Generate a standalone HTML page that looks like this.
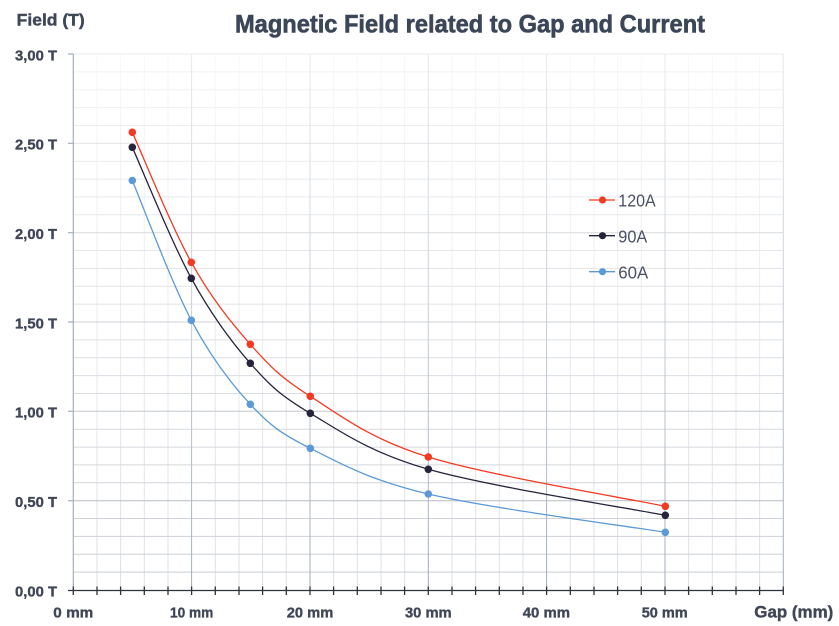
<!DOCTYPE html>
<html>
<head>
<meta charset="utf-8">
<style>
  html,body{margin:0;padding:0;background:#fff;}
  svg{display:block;}
  text{font-family:"Liberation Sans",Arial,sans-serif;}
</style>
</head>
<body>
<svg width="839" height="626" viewBox="0 0 839 626" xmlns="http://www.w3.org/2000/svg">
  <defs>
    <linearGradient id="fade" x1="0" y1="54" x2="0" y2="590" gradientUnits="userSpaceOnUse">
      <stop offset="0" stop-color="#fff" stop-opacity="0.25"/>
      <stop offset="0.5" stop-color="#fff" stop-opacity="0.6"/>
      <stop offset="1" stop-color="#fff" stop-opacity="1"/>
    </linearGradient>
    <mask id="m" maskUnits="userSpaceOnUse" x="0" y="0" width="839" height="626">
      <rect x="0" y="0" width="839" height="626" fill="url(#fade)"/>
    </mask>
  </defs>
  <rect width="839" height="626" fill="#fff"/>

  <!-- grid -->
  <g mask="url(#m)" fill="none">
    <path stroke="#dcdfe3" stroke-width="1" d="
      M97.0 54V590 M120.6 54V590 M144.3 54V590 M168.0 54V590
      M215.3 54V590 M239.0 54V590 M262.6 54V590 M286.3 54V590
      M333.6 54V590 M357.3 54V590 M381.0 54V590 M404.6 54V590
      M452.0 54V590 M475.6 54V590 M499.3 54V590 M523.0 54V590
      M570.3 54V590 M594.0 54V590 M617.6 54V590 M641.3 54V590
      M688.6 54V590 M712.3 54V590 M736.0 54V590 M759.6 54V590"/>
    <path stroke="#c9cdd3" stroke-width="1" d="
      M73.3 71.9H783.3 M73.3 89.7H783.3 M73.3 107.6H783.3 M73.3 125.5H783.3
      M73.3 161.2H783.3 M73.3 179.1H783.3 M73.3 196.9H783.3 M73.3 214.8H783.3
      M73.3 250.5H783.3 M73.3 268.4H783.3 M73.3 286.3H783.3 M73.3 304.1H783.3
      M73.3 339.9H783.3 M73.3 357.7H783.3 M73.3 375.6H783.3 M73.3 393.5H783.3
      M73.3 429.2H783.3 M73.3 447.1H783.3 M73.3 464.9H783.3 M73.3 482.8H783.3
      M73.3 518.5H783.3 M73.3 536.4H783.3 M73.3 554.3H783.3 M73.3 572.1H783.3"/>
    <path stroke="#adb3bc" stroke-width="1" d="
      M73.3 54H783.3 M73.3 143.3H783.3 M73.3 232.7H783.3 M73.3 322.0H783.3
      M73.3 411.3H783.3 M73.3 500.7H783.3"/>
    <path stroke="#9eacba" stroke-width="1" d="
      M191.6 54V590 M310.0 54V590 M428.3 54V590 M546.6 54V590 M665.0 54V590 M783.3 54V590"/>
  </g>

  <!-- y axis -->
  <path stroke="#a3afbb" stroke-width="1.2" fill="none" d="M73.3 54V590
    M68 54H73.3 M68 143.3H73.3 M68 232.7H73.3 M68 322.0H73.3 M68 411.3H73.3 M68 500.7H73.3"/>

  <!-- x axis -->
  <path stroke="#2e323b" stroke-width="1.3" fill="none" d="M68 590.5H783.3
    M73.3 586.5V595 M97.0 586.5V595 M120.6 586.5V595 M144.3 586.5V595 M168.0 586.5V595
    M191.6 586.5V595 M215.3 586.5V595 M239.0 586.5V595 M262.6 586.5V595 M286.3 586.5V595
    M310.0 586.5V595 M333.6 586.5V595 M357.3 586.5V595 M381.0 586.5V595 M404.6 586.5V595
    M428.3 586.5V595 M452.0 586.5V595 M475.6 586.5V595 M499.3 586.5V595 M523.0 586.5V595
    M546.6 586.5V595 M570.3 586.5V595 M594.0 586.5V595 M617.6 586.5V595 M641.3 586.5V595
    M665.0 586.5V595 M688.6 586.5V595 M712.3 586.5V595 M736.0 586.5V595 M759.6 586.5V595
    M783.3 586.5V595"/>

  <!-- series lines -->
  <g fill="none" stroke-width="1.3">
    <path stroke="#f23a22" d="M132.3 132.3 C142.1 154.0 171.6 227.0 191.3 262.3 C211.0 297.6 230.5 322.0 250.3 344.3 C270.1 366.6 280.6 377.5 310.3 396.3 C340.0 415.1 369.1 438.7 428.3 457.0 C487.5 475.3 625.8 498.1 665.3 506.3"/>
    <path stroke="#25243b" d="M132.3 147.3 C142.1 169.1 171.6 242.3 191.3 278.3 C211.0 314.3 230.5 340.8 250.3 363.3 C270.1 385.8 280.6 395.6 310.3 413.3 C340.0 431.0 369.1 452.3 428.3 469.3 C487.5 486.3 625.8 507.6 665.3 515.3"/>
    <path stroke="#5b9ad6" d="M132.3 180.5 C142.1 203.8 171.6 283.0 191.3 320.3 C211.0 357.6 230.5 383.0 250.3 404.3 C270.1 425.6 280.6 433.4 310.3 448.3 C340.0 463.3 369.1 480.0 428.3 494.0 C487.5 508.0 625.8 525.9 665.3 532.3"/>
  </g>

  <!-- markers -->
  <g fill="#f23a22">
    <circle cx="132.3" cy="132.3" r="3.8"/><circle cx="191.3" cy="262.3" r="3.8"/><circle cx="250.3" cy="344.3" r="3.8"/>
    <circle cx="310.3" cy="396.3" r="3.8"/><circle cx="428.3" cy="457.0" r="3.8"/><circle cx="665.3" cy="506.3" r="3.8"/>
  </g>
  <g fill="#25243b">
    <circle cx="132.3" cy="147.3" r="3.8"/><circle cx="191.3" cy="278.3" r="3.8"/><circle cx="250.3" cy="363.3" r="3.8"/>
    <circle cx="310.3" cy="413.3" r="3.8"/><circle cx="428.3" cy="469.3" r="3.8"/><circle cx="665.3" cy="515.3" r="3.8"/>
  </g>
  <g fill="#5b9ad6">
    <circle cx="132.3" cy="180.5" r="3.8"/><circle cx="191.3" cy="320.3" r="3.8"/><circle cx="250.3" cy="404.3" r="3.8"/>
    <circle cx="310.3" cy="448.3" r="3.8"/><circle cx="428.3" cy="494.0" r="3.8"/><circle cx="665.3" cy="532.3" r="3.8"/>
  </g>

  <!-- legend -->
  <g stroke-width="1.3">
    <line x1="589" y1="200" x2="615" y2="200" stroke="#f23a22"/>
    <circle cx="602.5" cy="200" r="3.6" fill="#f23a22"/>
    <line x1="589" y1="235.7" x2="615" y2="235.7" stroke="#25243b"/>
    <circle cx="602.5" cy="235.7" r="3.6" fill="#25243b"/>
    <line x1="589" y1="271.7" x2="615" y2="271.7" stroke="#5b9ad6"/>
    <circle cx="602.5" cy="271.7" r="3.6" fill="#5b9ad6"/>
  </g>
  <g fill="#4a5263" font-size="17.5">
    <text x="618.3" y="206.7" textLength="37.4" lengthAdjust="spacingAndGlyphs">120A</text>
    <text x="618.3" y="242.4" textLength="29" lengthAdjust="spacingAndGlyphs">90A</text>
    <text x="618.3" y="278.4" textLength="30" lengthAdjust="spacingAndGlyphs">60A</text>
  </g>

  <!-- title -->
  <text x="235" y="32.3" font-size="25" font-weight="bold" fill="#3b4658" stroke="#3b4658" stroke-width="0.6" textLength="470" lengthAdjust="spacingAndGlyphs">Magnetic Field related to Gap and Current</text>
  <text x="16.7" y="25.7" font-size="17" font-weight="bold" fill="#3f4757" stroke="#3f4757" stroke-width="0.4" textLength="68" lengthAdjust="spacingAndGlyphs">Field (T)</text>

  <!-- y labels -->
  <g font-size="15" font-weight="bold" fill="#3f4656" stroke="#3f4656" stroke-width="0.35">
    <text x="15" y="60.3" textLength="42" lengthAdjust="spacingAndGlyphs">3,00 T</text>
    <text x="15" y="149.6" textLength="42" lengthAdjust="spacingAndGlyphs">2,50 T</text>
    <text x="15" y="239" textLength="42" lengthAdjust="spacingAndGlyphs">2,00 T</text>
    <text x="15" y="328.3" textLength="42" lengthAdjust="spacingAndGlyphs">1,50 T</text>
    <text x="15" y="417.6" textLength="42" lengthAdjust="spacingAndGlyphs">1,00 T</text>
    <text x="15" y="507" textLength="42" lengthAdjust="spacingAndGlyphs">0,50 T</text>
    <text x="15" y="596.3" textLength="42" lengthAdjust="spacingAndGlyphs">0,00 T</text>
  </g>

  <!-- x labels -->
  <g font-size="15" font-weight="bold" fill="#3f4656" stroke="#3f4656" stroke-width="0.35">
    <text x="53.3" y="617.3" textLength="40" lengthAdjust="spacingAndGlyphs">0 mm</text>
    <text x="170" y="617.3" textLength="43.3" lengthAdjust="spacingAndGlyphs">10 mm</text>
    <text x="286.7" y="617.3" textLength="46.6" lengthAdjust="spacingAndGlyphs">20 mm</text>
    <text x="405" y="617.3" textLength="46.6" lengthAdjust="spacingAndGlyphs">30 mm</text>
    <text x="522.7" y="617.3" textLength="47.3" lengthAdjust="spacingAndGlyphs">40 mm</text>
    <text x="641.7" y="617.3" textLength="46" lengthAdjust="spacingAndGlyphs">50 mm</text>
  </g>
  <text x="754.3" y="617.3" font-size="17" font-weight="bold" fill="#3f4656" stroke="#3f4656" stroke-width="0.4" textLength="79" lengthAdjust="spacingAndGlyphs">Gap (mm)</text>
</svg>
</body>
</html>
